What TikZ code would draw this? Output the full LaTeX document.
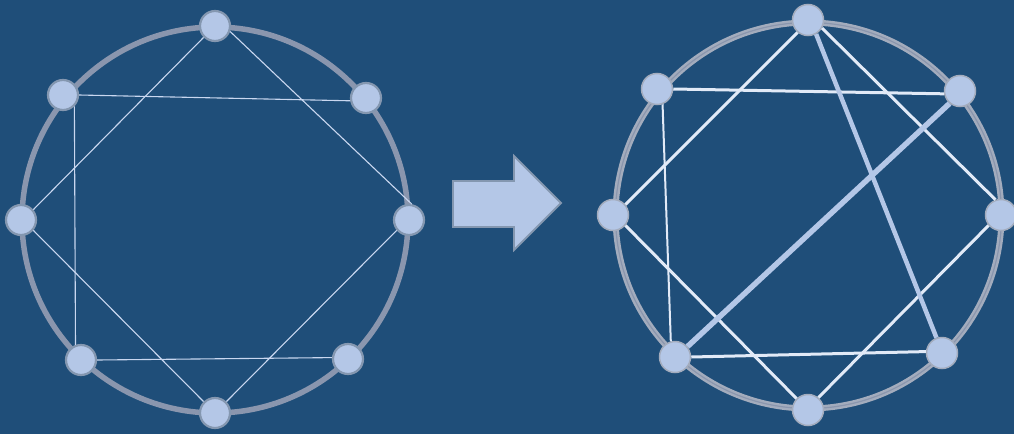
\documentclass[tikz,border=0pt]{standalone}
\definecolor{bg}{HTML}{1F4E79}
\definecolor{nodefill}{HTML}{B4C7E7}
\definecolor{nodeborder}{HTML}{8497B0}
\definecolor{ringgray}{HTML}{8A96AE}
\definecolor{ringgrayb}{HTML}{A3ACBD}
\definecolor{thinedge}{HTML}{C9D7F0}
\definecolor{whiteedge}{HTML}{E2EAF7}
\tikzset{
  vert/.style={circle, minimum size=30pt, inner sep=0pt, fill=nodefill, draw=nodeborder, line width=2.2pt},
  vertb/.style={circle, minimum size=31pt, inner sep=0pt, fill=nodefill, draw=ringgrayb, line width=1.5pt},
  ring/.style={draw=ringgray, line width=5.5pt},
  ringb/.style={draw=ringgrayb, line width=6pt},
  ledge/.style={draw=thinedge, line width=1.1pt},
  redge/.style={draw=whiteedge, line width=3pt},
  hedge/.style={draw=nodefill, line width=4.5pt},
  bigarrow/.style={fill=nodefill, draw=nodeborder, line width=1.8pt, line join=miter},
}
\begin{document}
\begin{tikzpicture}[x=1pt,y=-1pt]
\useasboundingbox (0,0) rectangle (1014,434);
\fill[bg] (0,0) rectangle (1014,434);

% ---------- left graph ----------
\draw[ring] (215,220) circle[radius=193];
\node[vert] (lt) at (215,26) {};
\node[vert] (lur) at (366,98) {};
\node[vert] (lr) at (409,220) {};
\node[vert] (llr) at (348,359) {};
\node[vert] (lb) at (215,413) {};
\node[vert] (lll) at (81,360) {};
\node[vert] (ll) at (21,220) {};
\node[vert] (lul) at (63,95) {};
\draw[ledge] (lt.-135) -- (ll.40);
\draw[ledge] (lt.-20) -- (lr.80);
\draw[ledge] (lul.0) -- (lur.-170);
\draw[ledge] (lul.-45) -- (lll.110);
\draw[ledge] (ll.-40) -- (lb.135);
\draw[ledge] (lr.-140) -- (lb.45);
\draw[ledge] (lll.0) -- (llr.175);

% ---------- arrow ----------
\coordinate (a1) at (453,181);
\coordinate (a2) at (514,181);
\coordinate (a3) at (514,156);
\coordinate (a4) at (561,203);
\coordinate (a5) at (514,250);
\coordinate (a6) at (514,227);
\coordinate (a7) at (453,227);
\path[bigarrow] (a1) -- (a2) -- (a3) -- (a4) -- (a5) -- (a6) -- (a7) -- cycle;

% ---------- right graph ----------
\draw[ringb] (808.5,215.5) circle[radius=193];
\draw[draw=ringgray, line width=1.2pt] (808.5,215.5) circle[radius=193];
\node[vertb] (rt) at (808,20) {};
\node[vertb] (rur) at (960,91) {};
\node[vertb] (rr) at (1001,215) {};
\node[vertb] (rlr) at (942,353) {};
\node[vertb] (rb) at (808,410) {};
\node[vertb] (rll) at (675,357) {};
\node[vertb] (rl) at (613,215) {};
\node[vertb] (rul) at (657,89) {};
\draw[redge] (rt.-130) -- (rl.40);
\draw[redge] (rt.-30) -- (rr.110);
\draw[redge] (rul.0) -- (rur.-170);
\draw[redge, line width=2pt] (rul.-70) -- (rll.105);
\draw[redge] (rl.-40) -- (rb.135);
\draw[redge] (rr.-140) -- (rb.50);
\draw[redge] (rll.0) -- (rlr.175);
\draw[hedge, line width=4.5pt] (rt.-60) -- (rlr.110);
\draw[hedge, line width=5.5pt] (rur.-130) -- (rll.40);
\end{tikzpicture}
\end{document}
